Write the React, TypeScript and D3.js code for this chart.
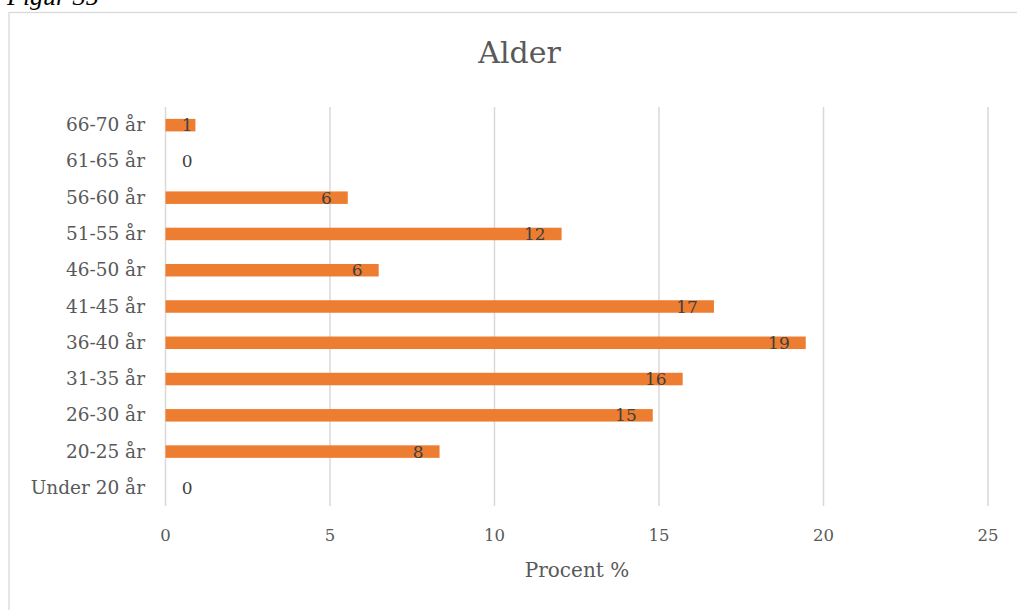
import React from "react";
import * as d3 from "d3";

const categories = ["Under 20 år", "20-25 år", "26-30 år", "31-35 år", "36-40 år", "41-45 år", "46-50 år", "51-55 år", "56-60 år", "61-65 år", "66-70 år"];
const values = [0, 8.33, 14.81, 15.72, 19.46, 16.67, 6.48, 12.04, 5.54, 0, 0.91];
const xTicks = [0, 5, 10, 15, 20, 25];
const title = "Alder";
const xTitle = "Procent %";
const figCaption = "Figur 35";

const W = 1017;
const H = 610;
const FONT = "'DejaVu Serif', 'Liberation Serif', serif";

export default function App() {
  const x = d3.scaleLinear().domain([0, 25]).range([165.5, 988]);
  const y = d3
    .scaleBand<string>()
    .domain([...categories].reverse())
    .range([107, 506])
    .paddingInner(0.655)
    .paddingOuter(0.3275);
  const bh = y.bandwidth();

  return (
    <svg width={W} height={H} style={{ position: "absolute", left: 0, top: 0, background: "#fff" }}>
      <text x={7} y={5} fontFamily="'Liberation Serif', serif" fontStyle="italic" fontSize={26} fill="#000">
        {figCaption}
      </text>
      <rect x={9} y={12.5} width={1030} height={620} fill="#fff" stroke="#d9d9d9" strokeWidth={1.3} />
      <text x={519.5} y={63} textAnchor="middle" fontFamily={FONT} fontSize={30} fill="#595959">
        {title}
      </text>
      {xTicks.map((t) => (
        <g key={t}>
          <line x1={x(t)} x2={x(t)} y1={107} y2={506} stroke="#d9d9d9" strokeWidth={1.5} />
          <text x={x(t)} y={541} textAnchor="middle" fontFamily={FONT} fontSize={16.5} fill="#595959">
            {t}
          </text>
        </g>
      ))}
      {categories.map((c, i) => {
        const v = values[i];
        const cy = (y(c) as number) + bh / 2;
        const labelRight = Math.max(x(v) - 16, x(0) + 27);
        return (
          <g key={c}>
            <text x={145} y={cy + 6} textAnchor="end" fontFamily={FONT} fontSize={18.5} fill="#595959">
              {c}
            </text>
            {v > 0 && <rect x={x(0)} y={y(c) as number} width={x(v) - x(0)} height={bh} fill="#ED7D31" />}
            <text x={labelRight} y={cy + 6} textAnchor="end" fontFamily={FONT} fontSize={17} fill="#404040">
              {Math.round(v)}
            </text>
          </g>
        );
      })}
      <text x={577} y={577} textAnchor="middle" fontFamily={FONT} fontSize={20} fill="#595959">
        {xTitle}
      </text>
    </svg>
  );
}
